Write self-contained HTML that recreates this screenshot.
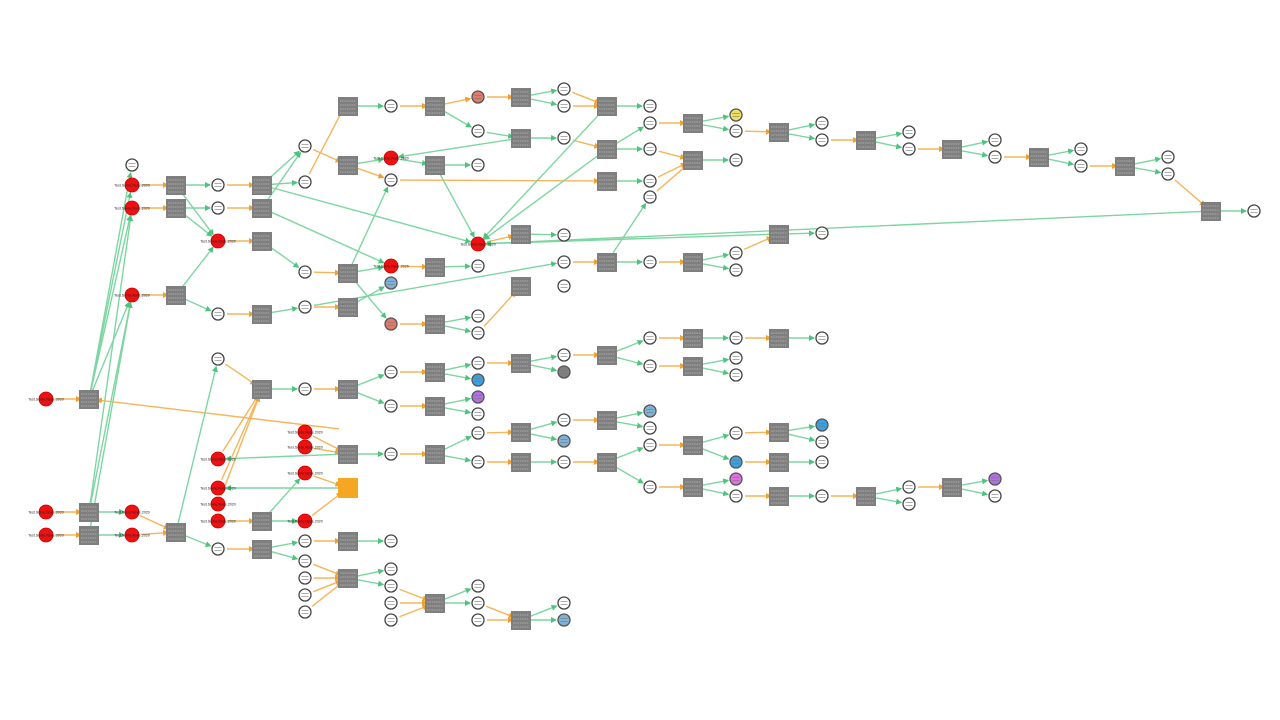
<!DOCTYPE html>
<html><head><meta charset="utf-8"><style>
html,body{margin:0;padding:0;background:#fff;width:1280px;height:720px;overflow:hidden}
svg{display:block}
text{font-family:"Liberation Sans",sans-serif}
</style></head><body>
<svg id="s" width="1280" height="720" viewBox="0 0 1280 720" xmlns="http://www.w3.org/2000/svg">
<defs>
<marker id="ag" markerWidth="6" markerHeight="6" refX="5" refY="3" orient="auto" markerUnits="userSpaceOnUse"><path d="M0,0 L6,3 L0,6z" fill="#4cc47e"/></marker>
<marker id="ao" markerWidth="6" markerHeight="6" refX="5" refY="3" orient="auto" markerUnits="userSpaceOnUse"><path d="M0,0 L6,3 L0,6z" fill="#f0a030"/></marker>
</defs>
<g id="E"></g><g id="N"></g>
</svg>
<script>
var E=`46,399,89,399,o;89,399,132,185,g;89,399,132,208,g;89,399,132,295,g;89,399,132,165,g;89,512,132,208,g;89,512,132,295,g;89,535,132,295,g;
132,185,176,185,o;132,208,176,208,o;132,295,176,295,o;176,185,218,185,g;176,208,218,208,g;176,185,218,241,g;176,208,218,241,g;176,295,218,241,g;176,295,218,314,g;
218,185,262,185,o;218,208,262,208,o;218,241,262,241,o;218,314,262,314,o;262,185,305,146,g;262,185,305,182,g;262,185,478,244,g;262,208,391,266,g;262,208,305,146,g;262,241,305,272,g;262,314,305,307,g;
305,146,348,165,o;305,182,348,100,o;305,272,348,273,o;305,307,348,307,o;305,307,564,262,g;348,106,391,106,g;348,165,391,158,g;348,165,391,180,o;348,273,391,266,g;348,273,391,180,g;348,273,391,324,g;348,307,391,283,g;
391,106,435,106,o;391,158,435,165,g;391,180,607,181,o;391,266,435,267,o;391,324,435,324,o;435,106,478,97,o;435,106,478,131,g;435,165,478,165,g;435,165,478,244,g;435,267,478,266,g;435,324,478,316,g;435,324,478,333,g;
478,97,521,97,o;478,131,521,138,g;478,244,521,234,o;478,333,521,286,o;521,97,564,89,g;521,97,564,106,g;521,138,564,138,g;521,138,391,158,g;521,234,564,235,g;
564,89,607,106,o;564,106,607,106,o;564,138,607,149,o;564,262,607,262,o;607,106,650,106,g;607,106,478,244,g;607,149,650,123,g;607,149,478,244,g;607,149,650,149,g;607,181,650,181,g;607,262,650,262,g;607,262,650,197,g;
650,123,693,123,o;650,149,693,160,o;650,181,693,160,o;650,197,693,160,o;650,262,693,262,o;693,123,736,115,g;693,123,736,131,g;693,160,736,160,g;693,262,736,253,g;693,262,736,270,g;
736,131,779,132,o;736,253,779,234,o;779,132,822,123,g;779,132,822,140,g;779,234,822,233,g;779,234,478,244,g;822,140,866,140,o;866,140,909,132,g;866,140,909,149,g;909,149,952,149,o;952,149,995,140,g;952,149,995,157,g;995,157,1039,157,o;1039,157,1081,149,g;1039,157,1081,166,g;1081,166,1125,166,o;1125,166,1168,157,g;1125,166,1168,174,g;1168,174,1211,211,o;1211,211,1254,211,g;1211,211,478,244,g;
46,512,89,512,o;46,535,89,535,o;89,512,132,512,g;89,535,132,535,g;132,512,176,532,o;132,535,176,532,o;348,430,89,399,o;176,532,218,359,g;176,532,218,549,g;
218,359,262,389,o;218,459,262,389,o;218,488,262,389,o;218,504,262,389,o;218,549,262,549,o;218,521,262,521,o;262,389,305,389,g;262,521,305,473,g;262,521,305,521,g;262,549,305,541,g;262,549,305,561,g;
305,389,348,389,o;305,432,348,454,o;305,447,348,454,o;305,473,348,488,o;305,521,348,488,o;305,541,348,541,o;305,561,348,578,o;305,578,348,578,o;305,595,348,578,o;305,612,348,578,o;
348,389,391,372,g;348,389,391,406,g;348,454,391,454,g;348,454,218,459,g;348,488,218,488,g;348,541,391,541,g;348,578,391,569,g;348,578,391,586,g;
391,372,435,372,o;391,406,435,406,o;391,454,435,454,o;391,586,435,603,o;391,603,435,603,o;391,620,435,603,o;435,372,478,363,g;435,372,478,380,g;435,406,478,397,g;435,406,478,414,g;435,454,478,433,g;435,454,478,462,g;435,603,478,586,g;435,603,478,603,g;
478,363,521,363,o;478,433,521,432,o;478,462,521,462,o;478,603,521,620,o;478,620,521,620,o;521,363,564,355,g;521,363,564,372,g;521,432,564,420,g;521,432,564,441,g;521,462,564,462,g;521,620,564,603,g;521,620,564,620,g;
564,355,607,355,o;564,420,607,420,o;564,462,607,462,o;607,355,650,338,g;607,355,650,366,g;607,420,650,411,g;607,420,650,428,g;607,462,650,445,g;607,462,650,487,g;
650,338,693,338,o;650,366,693,366,o;650,445,693,445,o;650,487,693,487,o;693,338,736,338,g;693,366,736,358,g;693,366,736,375,g;693,445,736,433,g;693,445,736,462,g;693,487,736,479,g;693,487,736,496,g;
736,338,779,338,o;736,433,779,432,o;736,462,779,462,o;736,496,779,496,o;779,338,822,338,g;779,432,822,425,g;779,432,822,442,g;779,462,822,462,g;779,496,822,496,g;822,496,866,496,o;866,496,909,487,g;866,496,909,504,g;909,487,952,487,o;952,487,995,479,g;952,487,995,496,g`;
var SQ="89,399;176,185;176,208;176,295;262,185;262,208;262,241;262,314;348,106;348,165;348,273;348,307;435,106;435,165;435,267;435,324;521,97;521,138;521,234;521,286;607,106;607,149;607,181;607,262;693,123;693,160;693,262;779,132;779,234;866,140;952,149;1039,157;1125,166;1211,211;89,512;89,535;176,532;262,389;262,521;262,549;348,389;348,454;348,541;348,578;435,372;435,406;435,454;435,603;521,363;521,432;521,462;521,620;607,355;607,420;607,462;693,338;693,366;693,445;693,487;779,338;779,432;779,462;779,496;866,496;952,487";
var CI="132,165;218,185;218,208;218,314;305,146;305,182;305,272;305,307;391,106;391,180;478,131;478,165;478,266;478,316;478,333;564,89;564,106;564,138;564,235;564,262;564,286;650,106;650,123;650,149;650,181;650,197;650,262;736,131;736,160;736,253;736,270;822,123;822,140;822,233;909,132;909,149;995,140;995,157;1081,149;1081,166;1168,157;1168,174;1254,211;218,359;218,549;305,389;305,541;305,561;305,578;305,595;305,612;391,372;391,406;391,454;391,541;391,569;391,586;391,603;391,620;478,363;478,414;478,433;478,462;478,586;478,603;478,620;564,355;564,420;564,462;564,603;650,338;650,366;650,428;650,445;650,487;736,358;736,375;736,338;736,433;736,496;822,442;822,462;822,496;909,487;909,504;995,496;822,338";
var RED="132,185;132,208;132,295;218,241;391,158;391,266;478,244;46,399;46,512;46,535;132,512;132,535;218,459;218,488;218,504;218,521;305,432;305,447;305,473;305,521";
var COL="391,283,#7fb2d6;391,324,#e07a6a;478,97,#e07a6a;736,115,#f0e060;478,380,#3aa0e0;478,397,#b070e0;564,372,#808080;564,441,#7fb2d6;564,620,#7fb2d6;650,411,#7fb2d6;736,462,#3aa0e0;736,479,#e070e0;822,425,#3aa0e0;995,479,#b070e0";
var ns="http://www.w3.org/2000/svg",Eg=document.getElementById('E'),Ng=document.getElementById('N');
function el(t,a,p){var e=document.createElementNS(ns,t);for(var k in a)e.setAttribute(k,a[k]);(p||Ng).appendChild(e);return e;}
E.replace(/\s/g,'').split(';').forEach(function(s){var p=s.split(',');var x1=+p[0],y1=+p[1],x2=+p[2],y2=+p[3],c=p[4];
 var dx=x2-x1,dy=y2-y1,L=Math.sqrt(dx*dx+dy*dy)||1;x1+=dx/L*9;y1+=dy/L*9;x2-=dx/L*8;y2-=dy/L*8;
 el('line',{x1:x1,y1:y1,x2:x2,y2:y2,stroke:c=='g'?'#7dd6a2':'#f5b55a','stroke-width':1.4,'marker-end':'url(#a'+c+')'},Eg);});
// orange box node
el('rect',{x:338,y:478,width:20,height:20,fill:'#f5a623'});
SQ.split(';').forEach(function(s){var p=s.split(','),x=+p[0],y=+p[1];
 el('rect',{x:x-10,y:y-9,width:20,height:19,fill:'#7f7f7f'});
 for(var i=0;i<4;i++)el('line',{x1:x-8,x2:x+8,y1:y-5+i*4,y2:y-5+i*4,stroke:'#d8d8d8','stroke-width':0.6,'stroke-dasharray':'1.5 0.8'});});
function circ(x,y,f,st){el('circle',{cx:x,cy:y,r:6,fill:f,stroke:st,'stroke-width':1.3});
 el('line',{x1:x-3.5,x2:x+3.5,y1:y-1.5,y2:y-1.5,stroke:'#777','stroke-width':0.6});el('line',{x1:x-3.5,x2:x+3.5,y1:y+1.5,y2:y+1.5,stroke:'#777','stroke-width':0.6});}
CI.split(';').forEach(function(s){var p=s.split(',');circ(+p[0],+p[1],'#fff','#444');});
COL.split(';').forEach(function(s){var p=s.split(',');circ(+p[0],+p[1],p[2],'#555');});
RED.split(';').forEach(function(s){var p=s.split(','),x=+p[0],y=+p[1];
 el('circle',{cx:x,cy:y,r:7,fill:'#ee1111',stroke:'#c00','stroke-width':0.8});
 var t=el('text',{x:x,y:y+1.5,'font-size':3.6,'text-anchor':'middle',fill:'#222'});t.textContent='Test.Some.Node.2020';});
</script>
</body></html>
